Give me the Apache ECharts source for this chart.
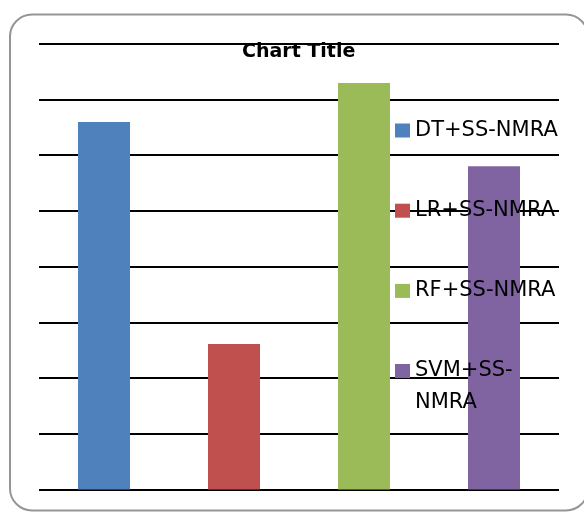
<!DOCTYPE html>
<html>
<head>
<meta charset="utf-8">
<style>
  html, body { margin: 0; padding: 0; background: #fff; }
  #chart { width: 584px; height: 512px; }
</style>
<script src="https://cdn.jsdelivr.net/npm/echarts@6/dist/echarts.min.js"></script>
</head>
<body>
<div id="chart"></div>
<script>
// Model scores per method
const categories = ['DT+SS-NMRA', 'LR+SS-NMRA', 'RF+SS-NMRA', 'SVM+SS-NMRA'];
const values = [6.59, 2.61, 7.29, 5.80];
const colors = ['#4F81BD', '#C0504D', '#9BBB59', '#8064A2'];

const FONT = 'DejaVu Sans';

// One series per method so each gets its own legend entry;
// barGap -100% keeps every bar centred in its own category slot.
const series = categories.map((name, i) => ({
  name: name,
  type: 'bar',
  barWidth: 52,
  barGap: '-100%',
  itemStyle: { color: colors[i] },
  data: categories.map((c, j) => (j === i ? values[i] : '-'))
}));

const legendBase = {
  orient: 'vertical',
  left: 395,
  padding: 0,
  icon: 'rect',
  itemWidth: 15,
  itemHeight: 14,
  itemGap: 48.2,
  selectedMode: false,
  textStyle: { fontFamily: FONT, fontSize: 21, lineHeight: 32, color: '#000' }
};

const chart = echarts.init(document.getElementById('chart'), null, { renderer: 'canvas' });
chart.setOption({
  animation: false,
  backgroundColor: '#fff',
  title: {
    text: 'Chart Title',
    left: 242,
    top: 40,
    padding: 0,
    textStyle: { fontFamily: FONT, fontSize: 19, fontWeight: 'bold', lineHeight: 24, color: '#000' }
  },
  legend: [
    Object.assign({}, legendBase, {
      top: 114.5,
      data: categories.slice(0, 3)
    }),
    // last entry wraps onto a second line, first line level with its swatch
    Object.assign({}, legendBase, {
      top: 371 - 48,
      data: [categories[3]],
      formatter: () => ' \nSVM+SS-\nNMRA'
    })
  ],
  grid: { left: 39, right: 25, top: 43.5, bottom: 22.5, containLabel: false },
  xAxis: {
    type: 'category',
    data: categories,
    axisLine: { show: false },
    axisTick: { show: false },
    axisLabel: { show: false },
    splitLine: { show: false }
  },
  yAxis: {
    type: 'value',
    min: 0,
    max: 8,
    interval: 1,
    axisLine: { show: false },
    axisTick: { show: false },
    axisLabel: { show: false },
    splitLine: { show: true, lineStyle: { color: '#000', width: 2 } }
  },
  graphic: [{
    type: 'rect',
    silent: true,
    z: 100,
    shape: { x: 10, y: 14.5, width: 578, height: 496, r: 22 },
    style: { fill: null, stroke: '#959595', lineWidth: 2 }
  }],
  series: series
});
</script>
</body>
</html>
